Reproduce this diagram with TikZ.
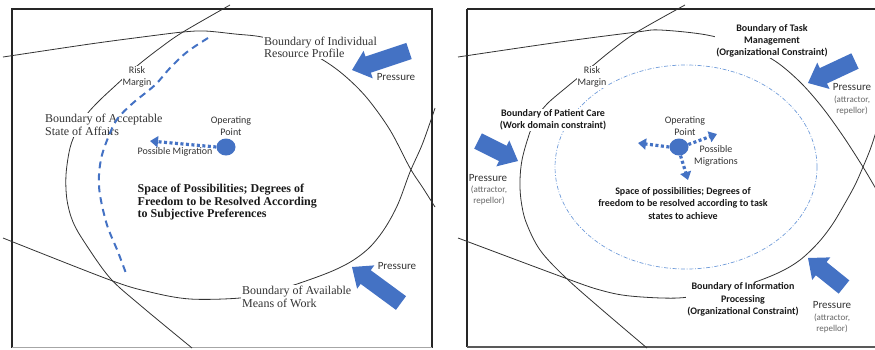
\documentclass[tikz,border=0pt]{standalone}
\usepackage{fontspec}
\setmainfont{Liberation Serif}
\newfontfamily\calfont{Carlito}
\usetikzlibrary{arrows.meta,calc,shapes.geometric}
\definecolor{pblue}{HTML}{4472C4}
\definecolor{lblue}{HTML}{6F9BD9}
\definecolor{ink}{HTML}{333333}
\newcommand\pressarrow[3]{%
  \coordinate (#1-t) at #2;
  \coordinate (#1-p) at #3;
  \coordinate (#1-h) at ($(#1-p)!17pt!(#1-t)$);
  \fill[pblue] ($(#1-t)!8.5pt!90:(#1-p)$) -- ($(#1-h)!8.5pt!90:(#1-p)$) -- ($(#1-h)!14.5pt!90:(#1-p)$) -- (#1-p) -- ($(#1-h)!14.5pt!-90:(#1-p)$) -- ($(#1-h)!8.5pt!-90:(#1-p)$) -- ($(#1-t)!8.5pt!-90:(#1-p)$) -- cycle;}
\tikzset{
 bline/.style={ink, line width=0.8pt},
 panelframe/.style={black!85, line width=1.4pt},
 serlab/.style={font=\fontsize{12}{12.5}\selectfont, align=left, text=ink, fill=white, inner sep=1pt},
 serbold/.style={font=\bfseries\fontsize{12}{12.5}\selectfont, align=left, text=black!90, inner sep=0pt},
 sanslab/.style={font=\calfont\fontsize{10}{12}\selectfont, align=center, text=ink, inner sep=0.5pt},
 whitebg/.style={fill=white},
 bsans/.style={font=\calfont\bfseries\fontsize{10}{12.3}\selectfont, align=center, text=black!90, fill=white, inner sep=1pt},
 presslab/.style={font=\calfont\fontsize{11}{12}\selectfont, text=ink, inner sep=0pt},
 attr/.style={font=\calfont\fontsize{9}{10.7}\selectfont, align=center, text=black!60, inner sep=0pt},
 opdot/.style={ellipse, fill=pblue, minimum width=19pt, minimum height=17pt, inner sep=0pt},
 migr/.style={pblue, line width=3.2pt, dash pattern=on 3pt off 2.5pt, -{Triangle[length=8pt,width=11pt]}},
 riskline/.style={pblue, line width=2pt, dash pattern=on 7pt off 5pt},
}
\begin{document}
\begin{tikzpicture}[x=1pt,y=-1pt]
\useasboundingbox (0,0) rectangle (875,349);
% ---------------- left panel frame
\draw[panelframe] (12,347.5) -- (12,9) -- (432,9) -- (432,347.5);
\draw[black!35, line width=1pt] (12,347.5) -- (432,347.5);
% ---------------- right panel frame
\draw[black!85, line width=1.1pt] (875,9) -- (467,9);
\draw[black!85, line width=2pt] (467,9) -- (467,347);
\draw[black!65, line width=2pt] (467,347) -- (875,347);

% ---------------- left boundaries
\draw[bline] plot[smooth, tension=0.55] coordinates {(230,5) (183,32) (160,48) (137,66) (115,86) (100,100) (87,114) (77,130) (70,148) (66,175) (67,200) (73,222) (85,243) (110,278) (140,305) (192,348)};
\draw[bline] plot[smooth, tension=0.55] coordinates {(3,57) (90,44) (150,36) (183,32) (205,31) (235,34) (262,37) (295,46) (323,60) (345,76) (367,98) (390,130) (410,168) (423,188) (435,207)};
\draw[bline] plot[smooth, tension=0.55] coordinates {(3,238) (110,280) (150,292) (190,299) (240,298) (270,292) (297,284) (330,272) (352,261) (370,247) (385,228) (398,204) (410,172) (422,145) (432,117) (435,108)};

% ---------------- right boundaries
\draw[bline] plot[smooth, tension=0.55] coordinates {(685,5) (637,32) (612,50) (590,68) (568,86) (547,104) (535,120) (528,138) (522,160) (520,180) (521,200) (526,222) (540,250) (565,277) (600,308) (647,348)};
\draw[bline] plot[smooth, tension=0.55] coordinates {(458,57) (560,42) (637,32) (660,30) (707,35) (745,46) (775,61) (800,82) (822,107) (843,136) (863,167) (876,189)};
\draw[bline] plot[smooth, tension=0.55] coordinates {(458,238) (565,278) (600,290) (630,296) (678,298) (715,292) (752,283) (780,272) (800,260) (818,243) (832,225) (844,205) (855,185) (863,167) (870,150) (876,132)};

% ---------------- left labels
\node[serlab, anchor=west] (bindiv) at (263,47.5) {Boundary of Individual\\Resource Profile};
\node[serlab, anchor=west] (baccept) at (44,125) {Boundary of Acceptable\\State of Affairs};
\node[serlab, anchor=west] (bavail) at (241,297) {Boundary of Available\\Means of Work};
\node[serbold, anchor=west] (space1) at (137.5,202.5) {Space of Possibilities; Degrees of\\Freedom to be Resolved According\\to Subjective Preferences};
\node[sanslab, whitebg] (risk1) at (137,77) {Risk\\Margin};
\node[sanslab] (opl1) at (231,126) {Operating\\Point};
\node[sanslab] (pm1) at (175,152) {Possible Migration};

% risk margin line (left)
\draw[riskline] plot[smooth, tension=0.55] coordinates {(208,38) (187,52) (170,68) (155,85) (133,103) (118,118) (110,133) (102,155) (99,175) (100,195) (107,225) (118,252) (127,276)};

% operating point (left)
\node[opdot] (op1) at (226,147) {};
\coordinate (m1) at (150,141);
\draw[migr] (op1.west) -- (m1);

% pressure (left)
\pressarrow{pa1}{(409,51)}{(352,70)}
\pressarrow{pa2}{(401,303)}{(352,267)}
\node[presslab] (pl1) at (396,77) {Pressure};
\node[presslab] (pl2) at (397,266) {Pressure};

% ---------------- right panel
\draw[lblue, line width=0.7pt, dash pattern=on 4pt off 1.8pt on 0.8pt off 1.8pt] (686,167) ellipse [x radius=131, y radius=102];

\node[bsans] (btask) at (772,40.7) {Boundary of Task\\Management\\(Organizational Constraint)};
\node[bsans] (bpat) at (553,120) {Boundary of Patient Care\\(Work domain constraint)};
\node[bsans] (binfo) at (743,299.5) {Boundary of Information\\Processing\\(Organizational Constraint)};
\node[bsans, fill=none] (space2) at (683,203.5) {Space of possibilities; Degrees of\\freedom to be resolved according to task\\states to achieve};
\node[sanslab, whitebg] (risk2) at (592,77) {Risk\\Margin};
\node[sanslab] (opl2) at (685,126) {Operating\\Point};
\node[sanslab] (pm2) at (716,156) {Possible\\Migrations};

\node[opdot] (op2) at (679,147) {};
\coordinate (m2a) at (638,143);
\coordinate (m2b) at (717,134);
\coordinate (m2c) at (688,180);
\draw[migr] (op2.west) -- (m2a);
\draw[migr] (op2.15) -- (m2b);
\draw[migr] (op2.-80) -- (m2c);

\pressarrow{pa3}{(855,61)}{(808,83)}
\pressarrow{pa4}{(478,141)}{(518,161)}
\pressarrow{pa5}{(844,287)}{(808,258)}
\node[presslab] (pr1) at (852,87) {Pressure};
\node[attr] (ar1) at (852,105.5) {(attractor,\\repellor)};
\node[presslab] (pr2) at (488,178) {Pressure};
\node[attr] (ar2) at (489,195.5) {(attractor,\\repellor)};
\node[presslab] (pr3) at (832,305) {Pressure};
\node[attr] (ar3) at (832,323.7) {(attractor,\\repellor)};
\end{tikzpicture}
\end{document}
